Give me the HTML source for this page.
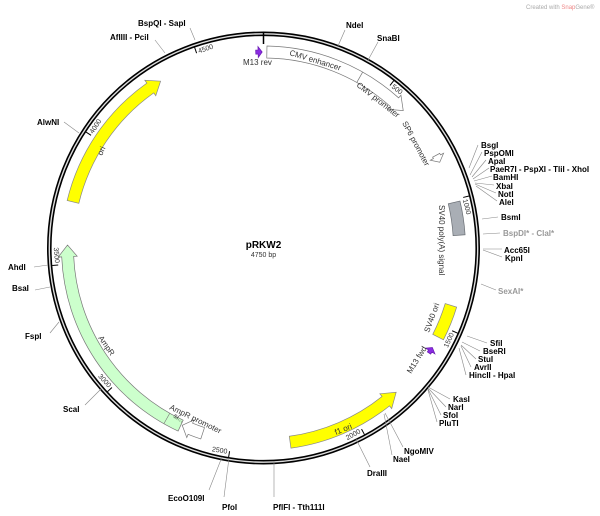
<!DOCTYPE html>
<html><head><meta charset="utf-8"><style>
html,body{margin:0;padding:0;background:#fff;}
svg{display:block;font-family:"Liberation Sans","DejaVu Sans",sans-serif;}
.e{font-size:8px;font-weight:bold;fill:#000;}
.g{font-size:8px;font-weight:bold;fill:#999;}
.f{font-size:8px;fill:#333;}
.t{font-size:7px;fill:#333;}
.cl{stroke:#888;stroke-width:0.6;fill:none;}
</style></head><body>
<svg id="s" width="600" height="516" viewBox="0 0 600 516" xmlns="http://www.w3.org/2000/svg">
<text x="526" y="9" style="font-size:6px;fill:#aaa">Created with <tspan fill="#e88">Snap</tspan>Gene®</text>
<g id="geo"></g>
<circle cx="263.5" cy="248" r="214.2" fill="none" stroke="#000" stroke-width="4.6"/>
<circle cx="263.5" cy="248" r="214.2" fill="none" stroke="#ddd" stroke-width="1.4"/>
<line x1="263.5" y1="32" x2="263.5" y2="44" stroke="#000" stroke-width="1.5"/>
<g id="ticks"></g>
<text x="263.5" y="248" text-anchor="middle" style="font-size:10px;font-weight:bold">pRKW2</text>
<text x="263.5" y="257" text-anchor="middle" style="font-size:7px;fill:#333">4750 bp</text>
<g class="cl">
<path d="M195,40L190,28"/><path d="M165,53L155,40"/><path d="M338,46L345,30"/><path d="M367,62L378,42"/><path d="M79,133L64,122"/>
<path d="M469,168L478,145"/><path d="M470,175L482,152"/><path d="M472,177L486,160"/><path d="M473,179L489,168"/><path d="M474,181L492,176"/><path d="M475,183L494,185"/><path d="M475,184L496,193"/><path d="M476,186L497,201"/>
<path d="M482,219L498,217"/><path d="M483,234L500,233"/><path d="M483,249L502,249"/><path d="M483,250L502,257"/><path d="M481,284L496,290"/>
<path d="M467,336L487,343"/><path d="M462,342L480,351"/><path d="M461,345L476,359"/><path d="M461,346L471,367"/><path d="M459,348L466,375"/>
<path d="M428,387L450,399"/><path d="M428,388L446,407"/><path d="M428,389L441,415"/><path d="M428,390L437,422"/>
<path d="M385,413L403,447"/><path d="M384,414L392,455"/><path d="M356,439L370,467"/>
<path d="M274,461L274,497"/><path d="M229,458L224,497"/><path d="M222,457L209,490"/>
<path d="M101,389L85,405"/><path d="M59,322L50,333"/><path d="M50,287L35,290"/><path d="M48,265L34,267"/>
</g>
<g class="e">
<text x="138" y="26">BspQI - SapI</text>
<text x="110" y="40">AflIII - PciI</text>
<text x="346" y="28">NdeI</text>
<text x="377" y="41">SnaBI</text>
<text x="37" y="125">AlwNI</text>
<text x="481" y="148">BsgI</text>
<text x="484" y="156">PspOMI</text>
<text x="488" y="164">ApaI</text>
<text x="490" y="172">PaeR7I - PspXI - TliI - XhoI</text>
<text x="493" y="180">BamHI</text>
<text x="496" y="189">XbaI</text>
<text x="498" y="197">NotI</text>
<text x="499" y="205">AleI</text>
<text x="501" y="220">BsmI</text>
<text x="504" y="253">Acc65I</text>
<text x="505" y="261">KpnI</text>
<text x="490" y="346">SfiI</text>
<text x="483" y="354">BseRI</text>
<text x="478" y="362">StuI</text>
<text x="474" y="370">AvrII</text>
<text x="469" y="378">HincII - HpaI</text>
<text x="453" y="402">KasI</text>
<text x="448" y="410">NarI</text>
<text x="443" y="418">SfoI</text>
<text x="439" y="426">PluTI</text>
<text x="404" y="454">NgoMIV</text>
<text x="393" y="462">NaeI</text>
<text x="367" y="476">DraIII</text>
<text x="273" y="510">PflFI - Tth111I</text>
<text x="222" y="510">PfoI</text>
<text x="168" y="501">EcoO109I</text>
<text x="63" y="412">ScaI</text>
<text x="25" y="339">FspI</text>
<text x="12" y="291">BsaI</text>
<text x="8" y="270">AhdI</text>
</g>
<g class="g">
<text x="503" y="236">BspDI* - ClaI*</text>
<text x="498" y="294">SexAI*</text>
</g>
<g class="f">
<text x="243" y="65">M13 rev</text>
<text transform="translate(289,55) rotate(17)">CMV enhancer</text>
<text transform="translate(356,86) rotate(38)">CMV promoter</text>
<text transform="translate(402,123) rotate(62)">SP6 promoter</text>
<text transform="translate(439,205) rotate(90)">SV40 poly(A) signal</text>
<text transform="translate(429,333) rotate(-70)">SV40 ori</text>
<text transform="translate(411,374) rotate(-58)">M13 fwd</text>
<text transform="translate(336,435) rotate(-22)">f1 ori</text>
<text transform="translate(169,409) rotate(26)">AmpR promoter</text>
<text transform="translate(173,417) rotate(32)" style="font-size:7px">si...</text>
<text transform="translate(98,338) rotate(55)">AmpR</text>
<text transform="translate(102,156) rotate(-66)">ori</text>
</g>
</svg>
<script>
(function(){
var NS="http://www.w3.org/2000/svg",cx=263.5,cy=248,T=4750;
function P(r,a){a=a*Math.PI/180;return [cx+r*Math.sin(a),cy-r*Math.cos(a)];}
function deg(bp){return bp/T*360;}
function pt(p){return p[0].toFixed(2)+","+p[1].toFixed(2);}
var geo=document.getElementById("geo"),tk=document.getElementById("ticks");
function add(par,tag,at){var e=document.createElementNS(NS,tag);for(var k in at)e.setAttribute(k,at[k]);par.appendChild(e);return e;}
function arcPath(a1,a2,r,sweep){var la=Math.abs(a2-a1)>180?1:0;return "A"+r+","+r+" 0 "+la+","+sweep+" "+pt(P(r,a2));}
function feat(b1,b2,ri,ro,dir,fill,stroke,head){
 var a1=deg(b1),a2=deg(b2),h=head||3.2,d;
 var rm=(ri+ro)/2,ext=3.5;
 if(dir===1){var ab=a2-h;
  d="M"+pt(P(ro,a1))+arcPath(a1,ab,ro,1)+"L"+pt(P(ro+ext,ab))+"L"+pt(P(rm,a2))+"L"+pt(P(ri-ext,ab))+"L"+pt(P(ri,ab))+arcPath(ab,a1,ri,0)+"Z";}
 else if(dir===-1){var ab=a1+h;
  d="M"+pt(P(ro,a2))+arcPath(a2,ab,ro,0)+"L"+pt(P(ro+ext,ab))+"L"+pt(P(rm,a1))+"L"+pt(P(ri-ext,ab))+"L"+pt(P(ri,ab))+arcPath(ab,a2,ri,1)+"Z";}
 else{d="M"+pt(P(ro,a1))+arcPath(a1,a2,ro,1)+"L"+pt(P(ri,a2))+arcPath(a2,a1,ri,0)+"Z";}
 add(geo,"path",{d:d,fill:fill,stroke:stroke,"stroke-width":0.7});
}
var RI=190,RO=202;
feat(13,600,RI,RO,1,"#fff","#777",3.5);
var q1=P(RI,deg(388)),q2=P(RO,deg(388));
add(geo,"line",{x1:q1[0],y1:q1[1],x2:q2[0],y2:q2[1],stroke:"#777","stroke-width":0.7});
feat(815,845,RI+2,RO-2,1,"#fff","#777",1.8);
feat(1010,1138,RI,RO,0,"#a9aeb5","#6a6f75");
feat(1412,1544,RI,RO,0,"#ffff00","#888");
feat(1813,2272,RI,RO,-1,"#ffff00","#888",4);
feat(2615,2700,RI-1,RO-1,1,"#fff","#777",2.6);
feat(2705,3574,RI,RO,1,"#ccffcc","#777",3.4);
var s1=P(RI,deg(2765)),s2=P(RO,deg(2765));
add(geo,"line",{x1:s1[0],y1:s1[1],x2:s2[0],y2:s2[1],stroke:"#777","stroke-width":0.6});
feat(3742,4332,RI,RO,1,"#ffff00","#888",3.6);
feat(4720,4745,RI+4,RO-4,1,"#8a2be2","#6a1bb2",1.2);
feat(1590,1615,RI+4,RO-4,-1,"#8a2be2","#6a1bb2",1.2);
for(var b=500;b<T;b+=500){
 var a=deg(b),p1=P(212,a),p2=P(206,a);
 add(tk,"line",{x1:p1[0],y1:p1[1],x2:p2[0],y2:p2[1],stroke:"#000","stroke-width":1});
 var rot=(a>90&&a<270)?a-180:a;
 var tp=P(205,a+0.6);
 var t=add(tk,"text",{x:0,y:0,"font-size":"7",fill:"#333",transform:"translate("+pt(tp)+") rotate("+rot+")","text-anchor":(a>90&&a<270)?"end":"start","dominant-baseline":(a>90&&a<270)?"hanging":"auto"});
 t.textContent=String(b);
}
})();
</script>
</body></html>
